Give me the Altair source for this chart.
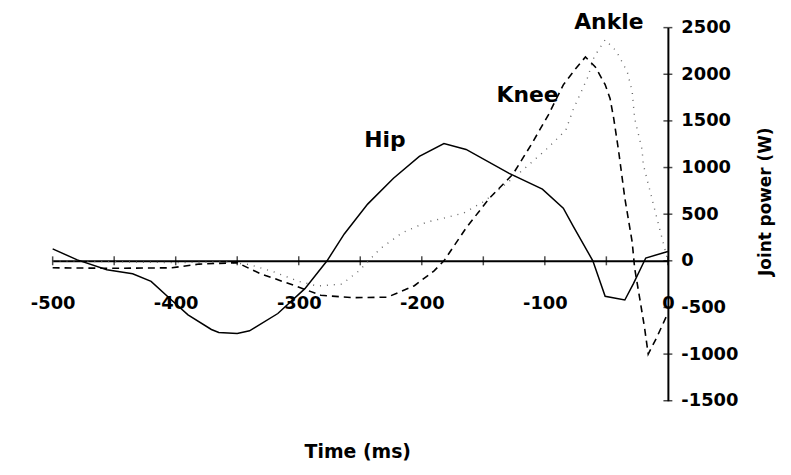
import altair as alt
import pandas as pd

# ---- data ----
hip_t = [-500, -480, -456, -435, -420, -403, -390, -371, -365, -350, -340, -317, -295, -277,
         -263, -244, -223, -202, -182, -164, -129, -102, -85, -77, -61, -51, -35, -28, -18, 0]
hip_w = [128, 10, -96, -139, -220, -426, -580, -736, -768, -778, -750, -565, -298, 0,
         288, 608, 885, 1119, 1258, 1194, 938, 768, 565, 373, 0, -380, -420, -245, 30, 100]

knee_t = [-500, -450, -403, -381, -350, -331, -303, -282, -255, -228, -206, -190, -182, -164,
          -145, -126, -111, -97, -85, -75, -67, -59, -51, -47, -44, -40, -35, -29, -27, -23,
          -19, -16, -9, 0]
knee_w = [-75, -80, -75, -35, -20, -139, -267, -370, -395, -390, -267, -107, 0, 352,
          672, 928, 1247, 1567, 1887, 2060, 2185, 2079, 1890, 1740, 1525, 1173, 672, 200, -80, -394,
          -714, -1000, -820, -560]

ankle_t = [-500, -450, -400, -360, -340, -320, -300, -285, -265, -251, -234, -216, -196, -182,
           -166, -149, -120, -100, -83, -77, -65, -60, -51, -42, -33, -29, -27, -21, -20, -10, 0]
ankle_w = [0, -10, -20, -10, -40, -120, -220, -270, -250, -107, 128, 300, 415, 458,
           512, 640, 950, 1180, 1400, 1620, 1972, 2185, 2370, 2250, 2026, 1812, 1525, 1194, 1034, 512, 0]

label_names = ["Hip", "Knee", "Ankle"]
label_t = [-230, -114, -48]
label_w = [1298, 1777, 2564]

x_tick_values = list(range(-500, 1, 50))
x_label_values = [-500, -400, -300, -200, -100, 0]
y_tick_values = list(range(-1500, 2501, 500))

FONT = "DejaVu Sans"

hip = pd.DataFrame({"t": hip_t, "w": hip_w})
knee = pd.DataFrame({"t": knee_t, "w": knee_w})
ankle = pd.DataFrame({"t": ankle_t, "w": ankle_w})
labels = pd.DataFrame({"t": label_t, "w": label_w, "name": label_names})
xt = pd.DataFrame({"t": x_tick_values, "w": [0] * len(x_tick_values)})
yt = pd.DataFrame({"t": [0] * len(y_tick_values), "w": y_tick_values})

x_enc = alt.X(
    "t:Q",
    scale=alt.Scale(domain=[-500, 0], nice=False, zero=False),
    axis=alt.Axis(
        orient="bottom", offset=-141, values=x_label_values,
        labelExpr="'' + datum.value", ticks=False, grid=False,
        domain=True, domainColor="black", domainWidth=2,
        labelFont=FONT, labelFontSize=18, labelFontWeight="bold", labelColor="black",
        labelPadding=34, labelFlush=False, labelOverlap=False,
        title="Time (ms)", titleFont=FONT, titleFontSize=19, titleFontWeight="bold",
        titleColor="black", titleX=307, titleY=192, titleAlign="center",
        titleBaseline="middle", titleAngle=0,
    ),
)
y_enc = alt.Y(
    "w:Q",
    scale=alt.Scale(domain=[-1500, 2500], nice=False, zero=False),
    axis=alt.Axis(
        orient="right", values=y_tick_values, labelExpr="'' + datum.value",
        ticks=False, grid=False, domain=True, domainColor="black", domainWidth=2,
        labelFont=FONT, labelFontSize=18, labelFontWeight="bold", labelColor="black",
        labelPadding=13, labelFlush=False, labelOverlap=False,
        title="Joint power (W)", titleFont=FONT, titleFontSize=17, titleFontWeight="bold",
        titleColor="black", titleX=98, titleY=175, titleAngle=270,
        titleAlign="center", titleBaseline="middle",
    ),
)

hip_line = alt.Chart(hip).mark_line(color="black", strokeWidth=1.5).encode(x=x_enc, y=y_enc)
knee_line = alt.Chart(knee).mark_line(color="black", strokeWidth=1.6, strokeDash=[7, 5]).encode(x=x_enc, y=y_enc)
ankle_line = alt.Chart(ankle).mark_line(color="#666666", strokeWidth=1.4, strokeDash=[1, 6]).encode(x=x_enc, y=y_enc)

x_ticks = alt.Chart(xt).mark_tick(orient="vertical", size=9, thickness=1.5, color="black").encode(x=x_enc, y=y_enc)
y_ticks = alt.Chart(yt).mark_tick(orient="horizontal", size=9, thickness=1.5, color="black").encode(x=x_enc, y=y_enc)

texts = alt.Chart(labels).mark_text(
    font=FONT, fontSize=22, fontWeight="bold", color="black", align="center", baseline="middle"
).encode(x=x_enc, y=y_enc, text="name:N")

chart = alt.layer(ankle_line, knee_line, hip_line, x_ticks, y_ticks, texts).properties(
    width=620,
    height=376,
    autosize=alt.AutoSizeParams(type="none"),
    padding={"left": 45, "top": 18, "right": 116, "bottom": 65},
    background="white",
).configure_view(stroke=None)

chart.save("out.html", embed_options={"renderer": "svg", "actions": False})
